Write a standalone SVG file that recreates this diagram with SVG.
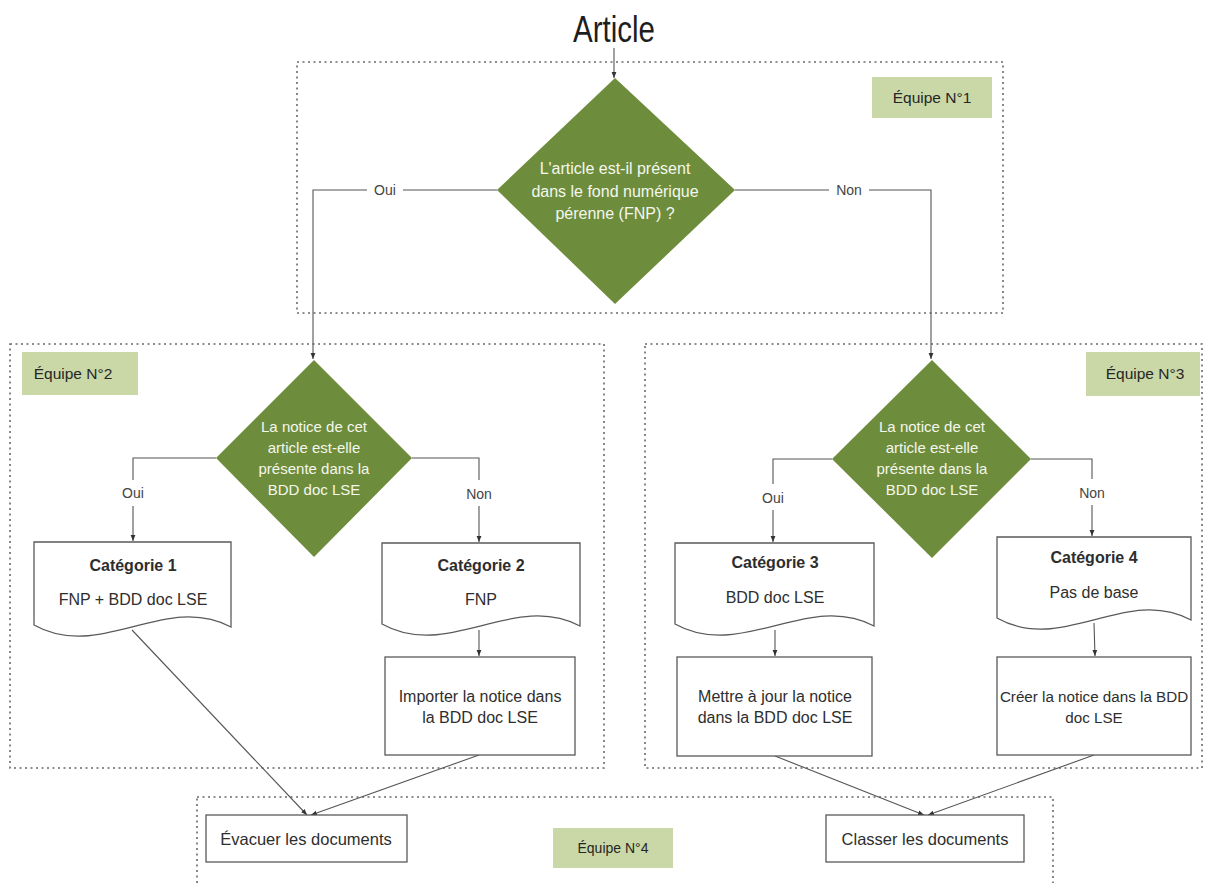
<svg xmlns="http://www.w3.org/2000/svg" width="1206" height="883" viewBox="0 0 1206 883">
<style>
.team{fill:none;stroke:#6a6a6a;stroke-width:1.6;stroke-dasharray:2 3.5}
.lbl{fill:#c9d8a6}
.lt{font-family:"Liberation Sans",Arial,sans-serif;font-size:15.5px;fill:#262626;text-anchor:middle}
.dia{fill:#6e8d3c}
.dt{font-family:"Liberation Sans",Arial,sans-serif;fill:#f4f7ee;text-anchor:middle}
.box{fill:#fff;stroke:#5a5a5a;stroke-width:1.3}
.t{font-family:"Liberation Sans",Arial,sans-serif;font-size:16px;fill:#2e2e2e;text-anchor:middle}
.b{font-weight:bold}
.c{fill:none;stroke:#555;stroke-width:1.1}
.cl{font-family:"Liberation Sans",Arial,sans-serif;font-size:14px;fill:#444;text-anchor:middle}
</style>
<defs>
<marker id="ah" viewBox="0 0 10 10" refX="10" refY="5" markerWidth="6" markerHeight="6" orient="auto" markerUnits="userSpaceOnUse">
<path d="M0,1 L10,5 L0,9 Z" fill="#333"/>
</marker>
</defs>
<rect width="1206" height="883" fill="#fff"/>

<g id="teams">
<rect class="team" x="297" y="62" width="706" height="251"/>
<rect class="team" x="10" y="344" width="594" height="424"/>
<rect class="team" x="645" y="344" width="557" height="424"/>
<rect class="team" x="197" y="797" width="856" height="100"/>
</g>

<g id="title">
<text x="614" y="42" font-family="'Liberation Sans',Arial,sans-serif" font-size="36" fill="#1e1e1e" text-anchor="middle" textLength="82" lengthAdjust="spacingAndGlyphs">Article</text>
</g>

<g id="equipe1"><rect class="lbl" x="872" y="77" width="120" height="41"/><text class="lt" x="932" y="103">Équipe N°1</text></g>
<g id="equipe2"><rect class="lbl" x="22" y="352" width="116" height="43"/><text class="lt" x="73" y="379">Équipe N°2</text></g>
<g id="equipe3"><rect class="lbl" x="1086" y="352" width="114" height="44"/><text class="lt" x="1145" y="379">Équipe N°3</text></g>
<g id="equipe4"><rect class="lbl" x="553" y="828" width="120" height="40"/><text class="lt" x="613" y="853" style="font-size:14px">Équipe N°4</text></g>

<g id="connectors">
<line class="c" x1="614" y1="48" x2="614" y2="78" marker-end="url(#ah)"/>
<polyline class="c" points="497,190 313,190 313,359" marker-end="url(#ah)"/>
<polyline class="c" points="735,190 931,190 931,359" marker-end="url(#ah)"/>
<polyline class="c" points="216,458 133,458 133,541" marker-end="url(#ah)"/>
<polyline class="c" points="412,458 479,458 479,542" marker-end="url(#ah)"/>
<polyline class="c" points="832,459 773,459 773,542" marker-end="url(#ah)"/>
<polyline class="c" points="1031,459 1092,459 1092,536" marker-end="url(#ah)"/>
<line class="c" x1="479" y1="630" x2="479" y2="656" marker-end="url(#ah)"/>
<line class="c" x1="775" y1="630" x2="775" y2="656" marker-end="url(#ah)"/>
<line class="c" x1="1094" y1="623" x2="1095" y2="656" marker-end="url(#ah)"/>
<line class="c" x1="132" y1="630" x2="307" y2="815" marker-end="url(#ah)"/>
<line class="c" x1="479" y1="755" x2="311" y2="815" marker-end="url(#ah)"/>
<line class="c" x1="775" y1="756" x2="924" y2="815" marker-end="url(#ah)"/>
<line class="c" x1="1094" y1="755" x2="928" y2="815" marker-end="url(#ah)"/>
<rect x="367" y="181" width="36" height="19" fill="#fff"/><text class="cl" x="385" y="195">Oui</text>
<rect x="829" y="181" width="40" height="19" fill="#fff"/><text class="cl" x="849" y="195">Non</text>
<rect x="118" y="480" width="30" height="26" fill="#fff"/><text class="cl" x="133" y="498">Oui</text>
<rect x="462" y="480" width="34" height="26" fill="#fff"/><text class="cl" x="479" y="499">Non</text>
<rect x="758" y="484" width="30" height="26" fill="#fff"/><text class="cl" x="773" y="503">Oui</text>
<rect x="1075" y="479" width="34" height="26" fill="#fff"/><text class="cl" x="1092" y="498">Non</text>
</g>

<g id="decision1">
<polygon class="dia" points="615,78 735,190 615,304 497,190"/>
<text class="dt" font-size="16" x="615" y="174">L'article est-il présent</text>
<text class="dt" font-size="16" x="615" y="197">dans le fond numérique</text>
<text class="dt" font-size="16" x="615" y="219">pérenne (FNP) ?</text>
</g>
<g id="decision2">
<polygon class="dia" points="314,360 412,458 314,557 216,458"/>
<text class="dt" font-size="15" x="314" y="432">La notice de cet</text>
<text class="dt" font-size="15" x="314" y="453">article est-elle</text>
<text class="dt" font-size="15" x="314" y="474">présente dans la</text>
<text class="dt" font-size="15" x="314" y="495">BDD doc LSE</text>
</g>
<g id="decision3">
<polygon class="dia" points="932,360 1031,459 932,558 832,459"/>
<text class="dt" font-size="15" x="932" y="432">La notice de cet</text>
<text class="dt" font-size="15" x="932" y="453">article est-elle</text>
<text class="dt" font-size="15" x="932" y="474">présente dans la</text>
<text class="dt" font-size="15" x="932" y="495">BDD doc LSE</text>
</g>

<g id="categorie1">
<path class="box" d="M34,542 H231 V627 C165,592 100,662 34,625 Z"/>
<text class="t b" x="133" y="571">Catégorie 1</text>
<text class="t" x="133" y="605">FNP + BDD doc LSE</text>
</g>
<g id="categorie2">
<path class="box" d="M382,543 H580 V626 C514,591 448,661 382,624 Z"/>
<text class="t b" x="481" y="571">Catégorie 2</text>
<text class="t" x="481" y="605">FNP</text>
</g>
<g id="categorie3">
<path class="box" d="M675,543 H874 V626 C808,591 741,661 675,624 Z"/>
<text class="t b" x="775" y="568">Catégorie 3</text>
<text class="t" x="775" y="603">BDD doc LSE</text>
</g>
<g id="categorie4">
<path class="box" d="M997,537 H1191 V620 C1126,585 1062,655 997,618 Z"/>
<text class="t b" x="1094" y="563">Catégorie 4</text>
<text class="t" x="1094" y="598">Pas de base</text>
</g>

<g id="importer">
<rect class="box" x="385" y="657" width="190" height="98"/>
<text class="t" x="480" y="702">Importer la notice dans</text>
<text class="t" x="480" y="723">la BDD doc LSE</text>
</g>
<g id="mettre">
<rect class="box" x="677" y="657" width="195" height="99"/>
<text class="t" x="775" y="702">Mettre à jour la notice</text>
<text class="t" x="775" y="723">dans la BDD doc LSE</text>
</g>
<g id="creer">
<rect class="box" x="997" y="657" width="194" height="98"/>
<text class="t" x="1094" y="702" style="font-size:15.2px">Créer la notice dans la BDD</text>
<text class="t" x="1094" y="723" style="font-size:15.2px">doc LSE</text>
</g>
<g id="evacuer">
<rect class="box" x="206" y="815" width="201" height="47"/>
<text class="t" x="306" y="845" style="font-size:16.5px">Évacuer les documents</text>
</g>
<g id="classer">
<rect class="box" x="826" y="815" width="198" height="47"/>
<text class="t" x="925" y="845" style="font-size:16.5px">Classer les documents</text>
</g>
</svg>
